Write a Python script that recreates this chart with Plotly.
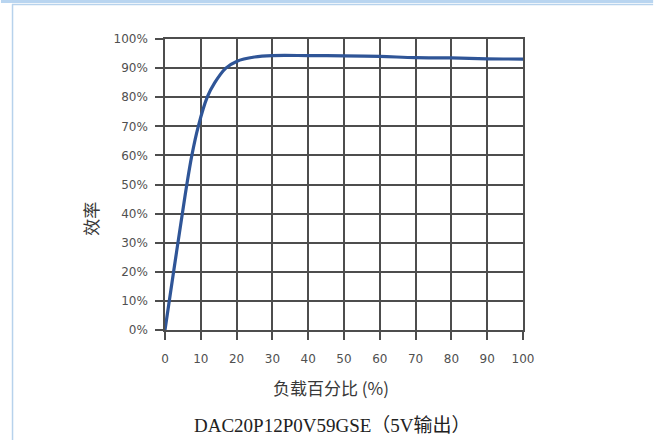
import plotly.graph_objects as go

# Data
load_pct = [0, 2.4, 4.85, 6.1, 7.5, 9.3, 11.8, 13.9, 17, 20, 25, 30, 40, 50, 60, 70, 80, 90, 100]
efficiency_pct = [0, 20, 40, 50, 60, 70, 80, 85, 90, 92.3, 93.8, 94.3, 94.3, 94.2, 94.0, 93.6, 93.5, 93.2, 93.1]

x_ticks = [0, 10, 20, 30, 40, 50, 60, 70, 80, 90, 100]
y_ticks = [0, 10, 20, 30, 40, 50, 60, 70, 80, 90, 100]
y_tick_labels = [f"{v}%" for v in y_ticks]

x_title = "负载百分比 (%)"
y_title = "效率"
caption = "DAC20P12P0V59GSE（5V输出）"

W, H = 654, 440
L, R, T, B = 164.5, 523.5, 39.0, 330.0


def px(xp):
    return (xp - L) / (R - L)


def py(yp):
    return (B - yp) / (B - T)


grid_color = "#4d4d4d"
label_color = "#505050"

fig = go.Figure()
fig.add_trace(go.Scatter(
    x=load_pct, y=efficiency_pct, mode="lines",
    line=dict(color="#2f5597", width=3.2, shape="spline", smoothing=1.0),
    hoverinfo="skip", showlegend=False,
))

axis_common = dict(
    showgrid=True, gridcolor=grid_color, gridwidth=1.5,
    showline=True, linecolor=grid_color, linewidth=1.5, mirror=True,
    ticks="outside", ticklen=8, tickwidth=1.5, tickcolor=grid_color,
    zeroline=False,
    tickfont=dict(family="DejaVu Sans, Arial, sans-serif", size=12, color=label_color),
)

fig.update_xaxes(range=[0, 100], tickvals=x_ticks, ticklabelstandoff=9, **axis_common)
fig.update_yaxes(range=[0, 100], tickvals=y_ticks, ticktext=y_tick_labels,
                 ticklabelstandoff=5, **axis_common)

shapes = [
    # top light-blue band
    dict(type="rect", xref="paper", yref="paper", x0=px(0), x1=px(W), y0=py(0), y1=py(3),
         fillcolor="#b9d5f0", line=dict(width=0), layer="above"),
    # frame top line
    dict(type="line", xref="paper", yref="paper", x0=px(11), x1=px(W), y0=py(4.6), y1=py(4.6),
         line=dict(color="#b7d2ec", width=1.5)),
    # frame left line
    dict(type="line", xref="paper", yref="paper", x0=px(11.6), x1=px(11.6), y0=py(4.6), y1=py(H + 5),
         line=dict(color="#b7d2ec", width=1.5)),
]

annotations = [
    dict(text=x_title, xref="paper", yref="paper", x=px(331), y=py(387),
         showarrow=False, xanchor="center", yanchor="middle",
         font=dict(family="Noto Sans CJK SC, sans-serif", size=17, color="#383838")),
    dict(text=y_title, xref="paper", yref="paper", x=px(89), y=py(219),
         showarrow=False, xanchor="center", yanchor="middle", textangle=-90,
         font=dict(family="Noto Sans CJK SC, sans-serif", size=17, color="#383838")),
    dict(text=caption, xref="paper", yref="paper", x=px(332), y=py(425),
         showarrow=False, xanchor="center", yanchor="middle",
         font=dict(family="Liberation Serif, Noto Sans CJK SC, serif", size=19, color="#222222")),
]

fig.update_layout(
    width=W, height=H,
    margin=dict(l=L, r=W - R, t=T, b=H - B, pad=0),
    paper_bgcolor="white", plot_bgcolor="white",
    shapes=shapes, annotations=annotations,
    showlegend=False,
)

fig.write_html(
    "out.html",
    config={"displayModeBar": False},
    post_script="document.body.style.margin='0';document.body.style.overflow='hidden';",
)
